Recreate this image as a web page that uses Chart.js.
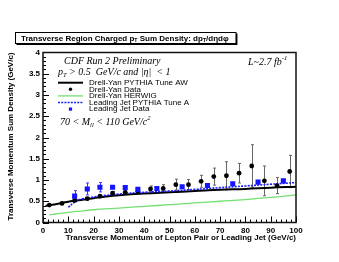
<!DOCTYPE html>
<html><head><meta charset="utf-8">
<script src="https://cdn.jsdelivr.net/npm/chart.js@4/dist/chart.umd.min.js"></script>
<style>html,body{margin:0;padding:0;background:#fff;}#wrap{width:339px;height:262px;}</style>
</head><body><div id="wrap"><canvas id="c" width="339" height="262"></canvas></div>
<script>
// ---- data ----
const dyX = [2.5,7.5,12.5,17.5,22.5,27.5,32.5,37.5,42.5,47.5,52.5,57.5,62.5,67.5,72.5,77.5,82.5,87.5,92.5,97.5];
const dyData = [0.41,0.45,0.52,0.56,0.62,0.69,0.71,0.73,0.79,0.80,0.89,0.89,0.97,1.08,1.10,1.16,1.33,0.98,0.87,1.20];
const dyErr = [0.02,0.02,0.03,0.03,0.03,0.04,0.05,0.05,0.07,0.09,0.13,0.12,0.14,0.20,0.33,0.23,0.50,0.35,0.19,0.38];
const ljX = [12.5,17.5,22.5,27.5,32.5,37.5,45,55,65,75,85,95];
const ljData = [0.62,0.79,0.83,0.83,0.82,0.78,0.80,0.84,0.87,0.91,0.95,0.98];
const ljErr = [0.13,0.14,0.11,0.03,0.03,0.03,0.02,0.02,0.02,0.02,0.02,0.02];
const awX = [1,5,10,15,20,25,30,40,50,60,70,80,90,100];
const awY = [0.39,0.43,0.49,0.53,0.57,0.61,0.64,0.68,0.71,0.74,0.77,0.79,0.82,0.84];
const hwX = [2.5,5,10,15,20,30,40,50,60,70,80,90,100];
const hwY = [0.18,0.20,0.24,0.27,0.30,0.34,0.38,0.42,0.46,0.50,0.54,0.59,0.65];
const taX = [10,12.5,15,20,25,30,40,50,60,70,80,90,100];
const taY = [0.36,0.48,0.55,0.60,0.64,0.67,0.71,0.74,0.78,0.82,0.86,0.90,0.94];
const xTicks = [0,10,20,30,40,50,60,70,80,90,100];
const yTicks = [0,0.5,1,1.5,2,2.5,3,3.5,4];
const seriesNames = ["Drell-Yan PYTHIA Tune AW","Drell-Yan Data","Drell-Yan HERWIG","Leading Jet PYTHIA Tune A","Leading Jet Data"];

const SANS = '"Liberation Sans", Arial, sans-serif';
const SERIF = '"Liberation Serif", "Times New Roman", serif';
const pts = (xs, ys) => xs.map((x,i)=>({x:x,y:ys[i]}));

function richText(ctx, x, y, parts, size, font, bold, italic){
  let cx = x;
  for (const p of parts){
    const s = p.sub || p.sup ? size*0.65 : size;
    ctx.font = (italic?'italic ':'') + (bold?'bold ':'') + s + 'px ' + font;
    const dy = p.sub ? size*0.3 : (p.sup ? -size*0.38 : 0);
    ctx.fillText(p.t, cx, y + dy);
    cx += ctx.measureText(p.t).width;
  }
  return cx;
}

const deco = {
  id:'deco',
  beforeDatasetsDraw(chart){
    const ctx = chart.ctx, xs = chart.scales.x, ys = chart.scales.y, a = chart.chartArea;
    ctx.save();
    ctx.beginPath(); ctx.rect(a.left,a.top,a.right-a.left,a.bottom-a.top); ctx.clip();
    const bars = (X,Y,E,col)=>{
      ctx.strokeStyle = col; ctx.lineWidth = 1;
      for (let i=0;i<X.length;i++){
        const px = Math.round(xs.getPixelForValue(X[i]))+0.5;
        const y1 = ys.getPixelForValue(Y[i]+E[i]), y2 = ys.getPixelForValue(Y[i]-E[i]);
        ctx.beginPath(); ctx.moveTo(px,y1); ctx.lineTo(px,y2);
        ctx.moveTo(px-1.5,y1); ctx.lineTo(px+1.5,y1);
        ctx.moveTo(px-1.5,y2); ctx.lineTo(px+1.5,y2); ctx.stroke();
      }
    };
    bars(dyX,dyData,dyErr,'#666');
    bars(ljX,ljData,ljErr,'#3a3aff');
    ctx.restore();
  },
  afterDatasetsDraw(chart){
    const ctx = chart.ctx, xs = chart.scales.x, ys = chart.scales.y, a = chart.chartArea;
    ctx.save();
    ctx.strokeStyle = '#000'; ctx.lineWidth = 1;
    ctx.beginPath();
    for (let v=0; v<=100.001; v+=2){
      const px = Math.round(xs.getPixelForValue(v))+0.5;
      const L = (Math.abs(v/10-Math.round(v/10))<1e-6) ? 6 : 3;
      ctx.moveTo(px,a.bottom); ctx.lineTo(px,a.bottom-L);
    }
    for (let v=0; v<=4.0001; v+=0.1){
      const py = Math.round(ys.getPixelForValue(v))+0.5;
      const L = (Math.abs(v/0.5-Math.round(v/0.5))<1e-6) ? 6 : 3;
      ctx.moveTo(a.left,py); ctx.lineTo(a.left+L,py);
    }
    ctx.stroke();
    ctx.lineWidth = 1.5; ctx.strokeStyle = '#111';
    ctx.strokeRect(a.left, a.top, a.right-a.left, a.bottom-a.top);
    ctx.restore();
  },
  afterDraw(chart){
    const ctx = chart.ctx, ds = chart.data.datasets;
    ctx.save();
    // title box
    ctx.fillStyle = '#fff';
    ctx.fillRect(15,32.5,221,11);
    ctx.strokeStyle = '#000'; ctx.lineWidth = 1;
    ctx.strokeRect(15.5,32.5,220.5,11);
    ctx.lineWidth = 1.5;
    ctx.beginPath(); ctx.moveTo(16.5,44.2); ctx.lineTo(236.7,44.2); ctx.lineTo(236.7,33.5); ctx.stroke();
    ctx.fillStyle = '#000'; ctx.textBaseline = 'middle'; ctx.textAlign = 'left';
    richText(ctx, 21, 38.3, [{t:'Transverse Region Charged p'},{t:'T',sub:true},{t:' Sum Density: dp'},{t:'T',sub:true},{t:'/d\u03b7d\u03c6'}], 8, SANS, true, false);
    // annotations
    richText(ctx, 64, 61, [{t:'CDF Run 2 Preliminary'}], 10, SERIF, false, true);
    richText(ctx, 58, 72.5, [{t:'p'},{t:'T',sub:true},{t:' > 0.5  GeV/c and |\u03b7|  < 1'}], 10, SERIF, false, true);
    richText(ctx, 248, 62.5, [{t:'L~2.7 fb'},{t:'-1',sup:true}], 10, SERIF, false, true);
    richText(ctx, 60, 122.5, [{t:'70 < M'},{t:'ll',sub:true},{t:' < 110 GeV/c'},{t:'2',sup:true}], 10, SERIF, false, true);
    // legend
    const ly = [82.7,89.3,95.9,102.5,109.1];
    const x0 = 58, x1 = 83, mx = 70.5;
    for (let i=0;i<5;i++){
      const d = ds[i], y = ly[i];
      if (d.type === 'line'){
        ctx.strokeStyle = d.borderColor; ctx.lineWidth = d.borderWidth;
        ctx.setLineDash(d.borderDash || []);
        ctx.beginPath(); ctx.moveTo(x0,y); ctx.lineTo(x1,y); ctx.stroke();
        ctx.setLineDash([]);
      } else {
        ctx.fillStyle = d.backgroundColor;
        if (d.pointStyle === 'rect'){ ctx.fillRect(mx-1.6,y-1.6,3.2,3.2); }
        else { ctx.beginPath(); ctx.arc(mx,y,1.7,0,Math.PI*2); ctx.fill(); }
      }
      ctx.fillStyle = '#000'; ctx.font = '8px ' + SANS; ctx.textBaseline='middle';
      ctx.fillText(d.label, 89, y);
    }
    ctx.restore();
  }
};

new Chart(document.getElementById('c'), {
  data: {
    datasets: [
      {type:'line', label:seriesNames[0], data:pts(awX,awY), borderColor:'#000', borderWidth:2, pointRadius:0, tension:0.4, fill:false, order:3},
      {type:'scatter', label:seriesNames[1], data:pts(dyX,dyData), backgroundColor:'#000', borderColor:'#000', pointRadius:2.4, pointStyle:'circle', borderWidth:0, order:1},
      {type:'line', label:seriesNames[2], data:pts(hwX,hwY), borderColor:'#72e072', borderWidth:1.3, pointRadius:0, tension:0.4, fill:false, order:4},
      {type:'line', label:seriesNames[3], data:pts(taX,taY), borderColor:'#1c1cff', borderWidth:1.6, borderDash:[2,1.2], pointRadius:0, tension:0.4, fill:false, order:2},
      {type:'scatter', label:seriesNames[4], data:pts(ljX,ljData), backgroundColor:'#1414ff', borderColor:'#1414ff', pointRadius:3.6, pointStyle:'rect', borderWidth:0, order:0}
    ]
  },
  options: {
    responsive:false, animation:false, devicePixelRatio:1,
    layout:{padding:{left:0, top:52.5, right:43, bottom:0}},
    plugins:{legend:{display:false}, tooltip:{enabled:false}, title:{display:false}},
    scales:{
      x:{type:'linear', min:0, max:100,
         afterFit(s){ s.height = 39.5; },
         afterBuildTicks(s){ s.ticks = xTicks.map(v=>({value:v})); },
         grid:{display:false, drawTicks:false}, border:{display:false},
         ticks:{color:'#000', padding:3, maxRotation:0, autoSkip:false, callback:(v)=>String(v), font:{family:SANS, size:8, weight:'bold'}},
         title:{display:true, text:'Transverse Momentum of Lepton Pair or Leading Jet (GeV/c)', align:'end', color:'#000', padding:{top:0,bottom:19}, font:{family:SANS, size:8, weight:'bold'}}},
      y:{type:'linear', min:0, max:4,
         afterFit(s){ s.width = 43; },
         afterBuildTicks(s){ s.ticks = yTicks.map(v=>({value:v})); },
         grid:{display:false, drawTicks:false}, border:{display:false},
         ticks:{color:'#000', padding:3, autoSkip:false, callback:(v)=>String(v), font:{family:SANS, size:8, weight:'bold'}},
         title:{display:true, text:'Transverse Momentum Sum Density (GeV/c)', align:'end', color:'#000', padding:{top:6,bottom:0}, font:{family:SANS, size:8, weight:'bold'}}}
    }
  },
  plugins:[deco]
});
</script></body></html>
